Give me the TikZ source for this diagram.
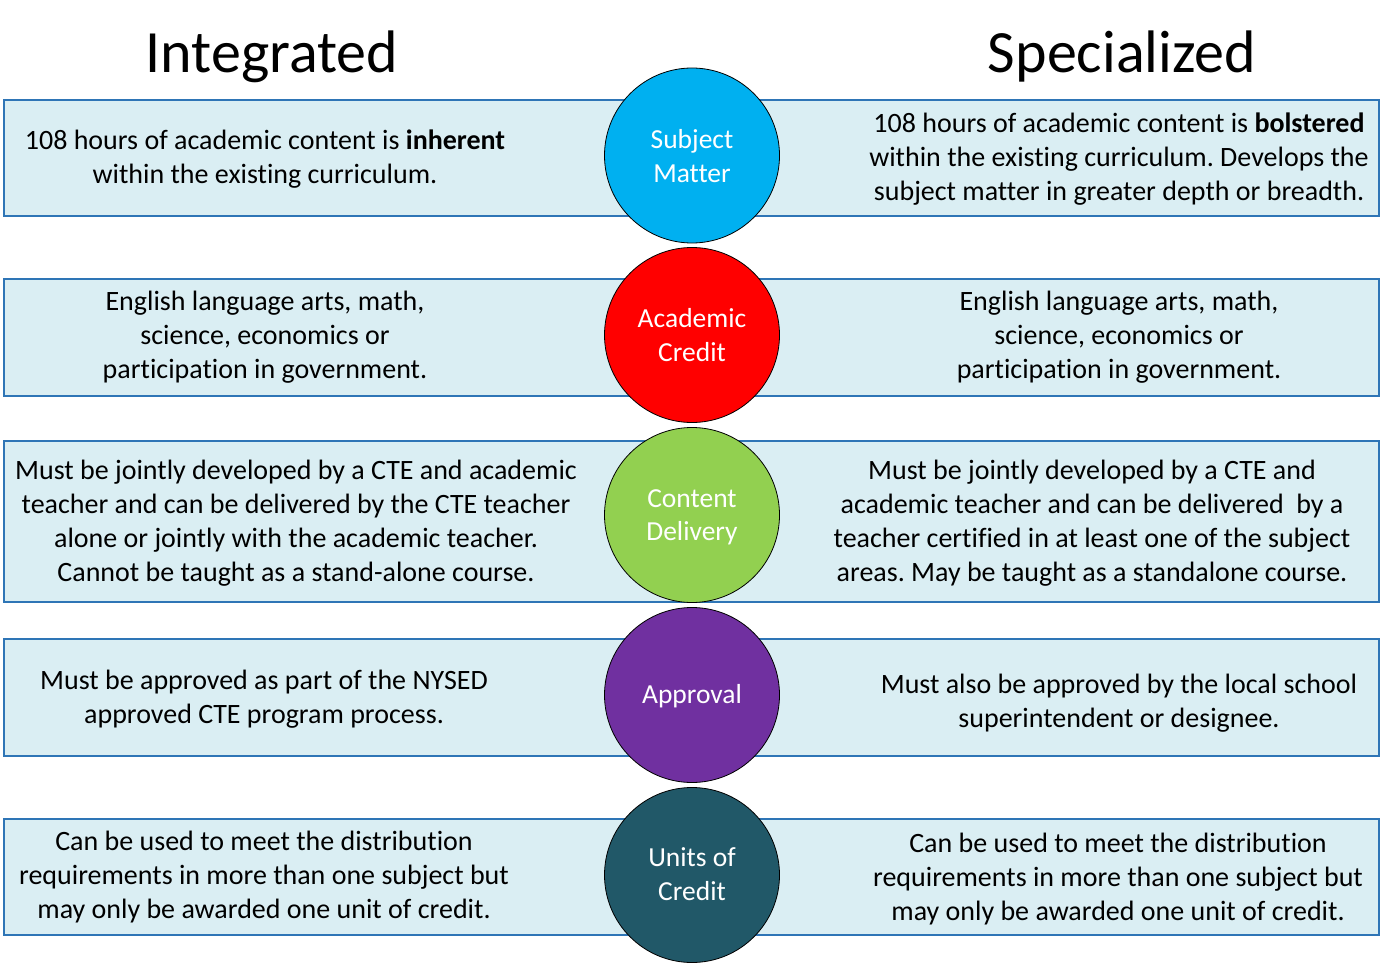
\documentclass[tikz,border=0pt]{standalone}
\usepackage{fontspec}
\setmainfont{Carlito}[RawFeature={-liga;-clig;-calt;-dlig}]
\frenchspacing
\definecolor{boxfill}{RGB}{218,238,243}
\definecolor{boxline}{RGB}{46,117,182}
\definecolor{cblue}{RGB}{0,176,240}
\definecolor{cred}{RGB}{255,0,0}
\definecolor{cgreen}{RGB}{146,208,80}
\definecolor{cpurple}{RGB}{112,48,160}
\definecolor{cteal}{RGB}{33,88,104}
\begin{document}
\begin{tikzpicture}[x=1pt,y=-1pt,
  rowbox/.style={draw=boxline,fill=boxfill,line width=1.3pt},
  bodytext/.style={align=center,font=\fontsize{28}{34}\selectfont,inner sep=0pt},
  circ/.style={circle,draw=black,line width=0.8pt,minimum size=175pt,inner sep=0pt},
  circtext/.style={align=center,text=white,font=\fontsize{27.5}{33.5}\selectfont,inner sep=0pt},
  titletext/.style={anchor=base,font=\fontsize{60}{70}\selectfont,inner sep=0pt}]
\useasboundingbox (0,0) rectangle (1390,963);
\fill[white] (0,0) rectangle (1390,963);
% titles
\node[titletext] (tI) at (272,73) {Integrated};
\node[titletext] (tS) at (1122,73) {Specialized};
% row boxes
\draw[rowbox] (4,100) rectangle (1379,216) coordinate (r1);
\draw[rowbox] (4,279) rectangle (1379,396) coordinate (r2);
\draw[rowbox] (4,441) rectangle (1379,602) coordinate (r3);
\draw[rowbox] (4,639) rectangle (1379,756) coordinate (r4);
\draw[rowbox] (4,819) rectangle (1379,935) coordinate (r5);
% circles
\node[circ,fill=cblue] (c1) at (692,155.5) {};
\node[circ,fill=cred] (c2) at (692,335) {};
\node[circ,fill=cgreen] (c3) at (692,515) {};
\node[circ,fill=cpurple] (c4) at (692,695) {};
\node[circ,fill=cteal] (c5) at (692,875) {};
\node[circtext] (k1) at ([yshift=-0.5pt]c1.center) {Subject\\Matter};
\node[circtext] (k2) at ([yshift=0pt]c2.center) {Academic\\Credit};
\node[circtext] (k3) at ([yshift=-2.5pt]c3.center) {Content\\Delivery};
\node[circtext] (k4) at ([yshift=-1pt]c4.center) {Approval};
\node[circtext] (k5) at ([yshift=1pt]c5.center) {Units of\\Credit};
% left texts
\node[bodytext] (l1) at (265,159) {108 hours of academic content is \textbf{inherent}\\within the existing curriculum.};
\node[bodytext] (l2) at (265,337) {English language arts, math,\\science, economics or\\participation in government.};
\node[bodytext] (l3) at (296,523) {Must be jointly developed by a CTE and academic\\teacher and can be delivered by the CTE teacher\\alone or jointly with the academic teacher.\\Cannot be taught as a stand-alone course.};
\node[bodytext] (l4) at (264,699) {Must be approved as part of the NYSED\\approved CTE program process.};
\node[bodytext] (l5) at (264,877) {Can be used to meet the distribution\\requirements in more than one subject but\\may only be awarded one unit of credit.};
% right texts
\node[bodytext] (s1) at (1119,159) {108 hours of academic content is \textbf{bolstered}\\within the existing curriculum. Develops the\\subject matter in greater depth or breadth.};
\node[bodytext] (s2) at (1119,337) {English language arts, math,\\science, economics or\\participation in government.};
\node[bodytext] (s3) at (1092,523) {Must be jointly developed by a CTE and\\academic teacher and can be delivered\ \ by a\\teacher certified in at least one of the subject\\areas. May be taught as a standalone course.};
\node[bodytext] (s4) at (1119,703) {Must also be approved by the local school\\superintendent or designee.};
\node[bodytext] (s5) at (1118,879) {Can be used to meet the distribution\\requirements in more than one subject but\\may only be awarded one unit of credit.};
\end{tikzpicture}
\end{document}
